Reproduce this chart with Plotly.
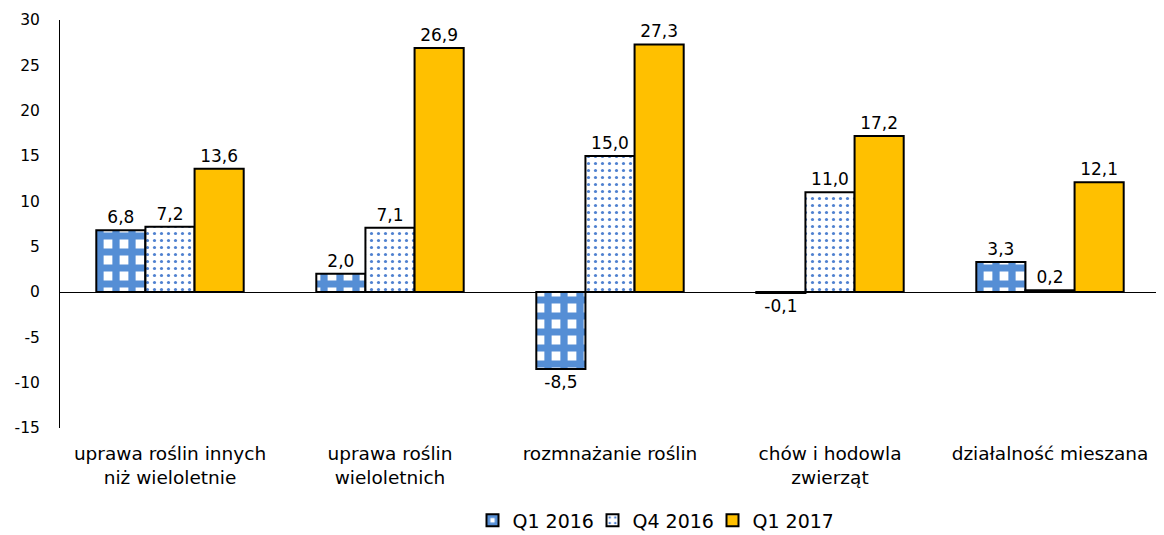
import plotly.graph_objects as go

categories = ["uprawa roślin innych<br>niż wieloletnie", "uprawa roślin<br>wieloletnich",
              "rozmnażanie roślin", "chów i hodowla<br>zwierząt", "działalność mieszana"]
series_names = ["Q1 2016", "Q4 2016", "Q1 2017"]
q1_2016 = [6.8, 2.0, -8.5, -0.1, 3.3]
q4_2016 = [7.2, 7.1, 15.0, 11.0, 0.2]
q1_2017 = [13.6, 26.9, 27.3, 17.2, 12.1]
y_ticks = [30, 25, 20, 15, 10, 5, 0, -5, -10, -15]

FONT = "DejaVu Sans"
fmt = lambda v: f"{v:.1f}".replace(".", ",")

fig = go.Figure()
fig.add_trace(go.Bar(
    x=categories, y=q1_2016, name=series_names[0],
    text=[fmt(v) for v in q1_2016], textposition="outside",
    marker=dict(color="white", line=dict(color="black", width=2),
                pattern=dict(shape="+", fgcolor="#558ED5", bgcolor="white", fgopacity=1,
                             size=16, solidity=0.7)),
))
fig.add_trace(go.Bar(
    x=categories, y=q4_2016, name=series_names[1],
    text=[fmt(v) for v in q4_2016], textposition="outside",
    marker=dict(color="white", line=dict(color="black", width=2),
                pattern=dict(shape=".", fgcolor="#4F81D0", bgcolor="white", fgopacity=1,
                             size=7, solidity=0.16)),
))
fig.add_trace(go.Bar(
    x=categories, y=q1_2017, name=series_names[2],
    text=[fmt(v) for v in q1_2017], textposition="outside",
    marker=dict(color="#FFC000", line=dict(color="black", width=2)),
))

fig.update_traces(textfont=dict(family=FONT, size=17, color="black"), cliponaxis=False)

fig.update_layout(
    width=1164, height=535,
    margin=dict(l=52, r=12, t=12, b=115, autoexpand=False),
    paper_bgcolor="white", plot_bgcolor="white",
    font=dict(family=FONT, size=16, color="black"),
    barmode="group", bargap=0.33, bargroupgap=0,
    showlegend=True,
    legend=dict(orientation="h", x=0.375, xanchor="left", y=-0.18, yanchor="top",
                font=dict(family=FONT, size=19), itemwidth=30, tracegroupgap=0,
                entrywidth=75, entrywidthmode="pixels"),
    xaxis=dict(showgrid=False, showline=False, ticks="", tickfont=dict(size=18.5),
               automargin=False, ticklabelstandoff=12),
    yaxis=dict(range=[-15, 30], tickvals=y_ticks, ticktext=[str(v) for v in y_ticks],
               showgrid=False, showline=True, linecolor="black", linewidth=1,
               ticks="", zeroline=True, zerolinecolor="black", zerolinewidth=1,
               tickfont=dict(size=15.5), ticklabelstandoff=16, automargin=False),
)

fig.write_html("out.html")
